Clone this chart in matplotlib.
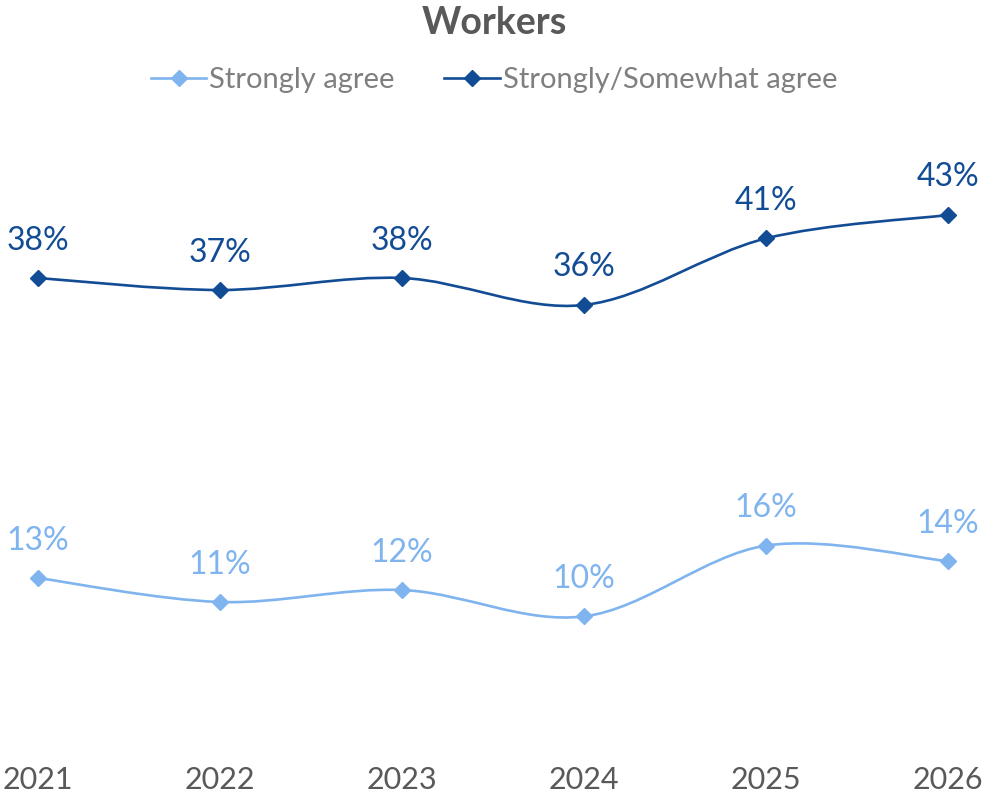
import numpy as np
import matplotlib
matplotlib.use("Agg")
import matplotlib.pyplot as plt
from matplotlib.path import Path
from matplotlib.patches import PathPatch
from matplotlib.lines import Line2D

plt.rcParams['font.family'] = ['Lato', 'DejaVu Sans']

# === Data ===
years = ["2021", "2022", "2023", "2024", "2025", "2026"]
strongly = [13.0, 11.0, 12.0, 9.8, 15.7, 14.4]
strongly_somewhat = [38.0, 37.0, 38.0, 35.75, 41.3, 43.25]

light_blue = "#7FB4EF"
dark_blue = "#124C94"
text_grey = "#595959"
legend_grey = "#7F7F7F"


def smooth_path(xs, ys):
    # Excel-style smoothed line: cubic Bezier through the points
    pts = np.column_stack([xs, ys]).astype(float)
    n = len(pts)
    verts = [pts[0]]
    codes = [Path.MOVETO]
    for i in range(n - 1):
        p0 = pts[max(i - 1, 0)]
        p1 = pts[i]
        p2 = pts[i + 1]
        p3 = pts[min(i + 2, n - 1)]
        c1 = p1 + (p2 - p0) / 6.0
        c2 = p2 - (p3 - p1) / 6.0
        verts += [c1, c2, p2]
        codes += [Path.CURVE4] * 3
    return Path(verts, codes)


fig = plt.figure(figsize=(9.88, 7.94), dpi=100)
ax = fig.add_axes([38 / 988, 1 - 734 / 794, (948 - 38) / 988, 600 / 794])
ax.set_xlim(0, 5)
ax.set_ylim(0, 50)

x = np.arange(len(years))
for vals, col in [(strongly, light_blue), (strongly_somewhat, dark_blue)]:
    ax.add_patch(PathPatch(smooth_path(x, vals), fill=False, edgecolor=col,
                           lw=1.9, clip_on=False, zorder=2))
    ax.plot(x, vals, ls="None", color=col, marker="D", markersize=8,
            clip_on=False, zorder=3)
    for xi, v in zip(x, vals):
        ax.annotate(f"{v:.0f}%", (xi, v), xytext=(0, 27), textcoords="offset points",
                    ha="center", va="center", fontsize=23, color=col)

# legend handles with line + marker
handles = [Line2D([], [], color=light_blue, lw=1.9, marker="D", markersize=8),
           Line2D([], [], color=dark_blue, lw=1.9, marker="D", markersize=8)]
fig.legend(handles, ["Strongly agree", "Strongly/Somewhat agree"], loc="center",
           bbox_to_anchor=(0.5, 1 - 80 / 794), ncol=2, frameon=False,
           fontsize=21, labelcolor=legend_grey, handlelength=1.9,
           handletextpad=0.1, columnspacing=1.7)

fig.text(0.5, 1 - 23 / 794, "Workers", ha="center", va="center",
         fontsize=27, fontweight="bold", color=text_grey)

ax.set_xticks(x)
ax.set_xticklabels(years, fontsize=22, color=text_grey)
ax.tick_params(axis="x", length=0, pad=23)
ax.set_yticks([])
for s in ax.spines.values():
    s.set_visible(False)

fig.savefig("out.png", dpi=100, facecolor="white")
